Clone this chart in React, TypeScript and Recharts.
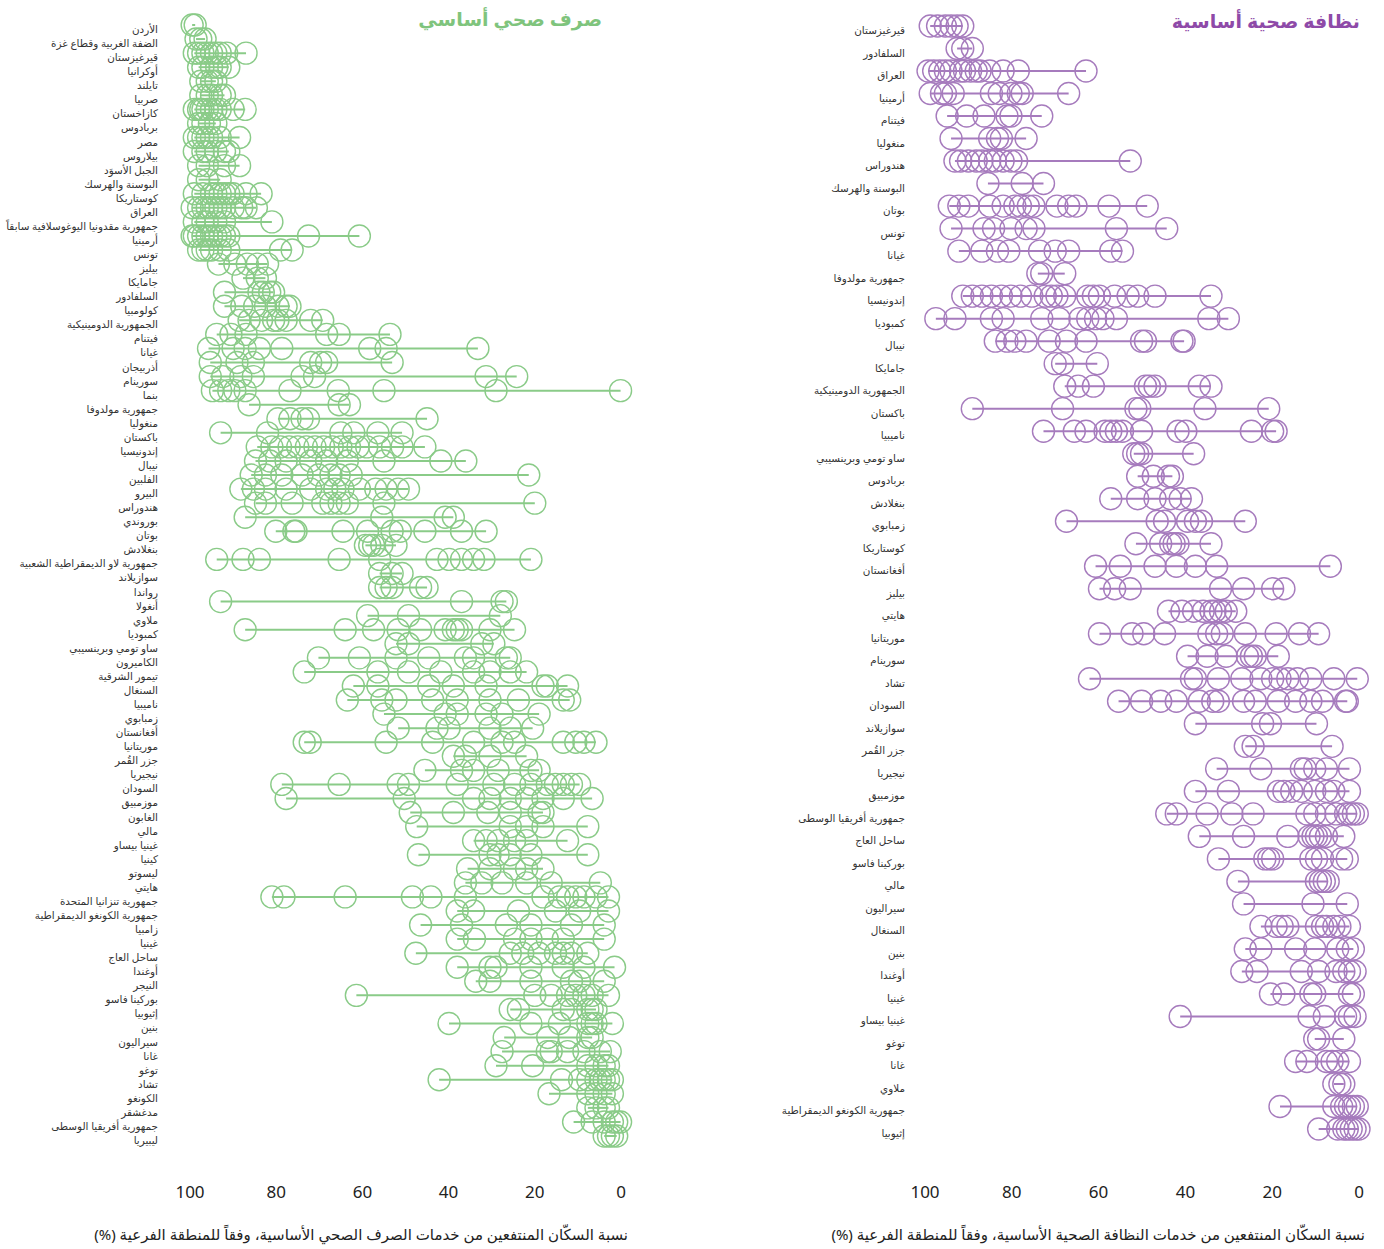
import React from 'react';
import { ScatterChart, Scatter, XAxis, YAxis, ReferenceLine } from 'recharts';

const GREEN = '#8acb88';
const PURPLE = '#a67bbd';
const FONT = '"Noto Sans", "DejaVu Sans", sans-serif';

const xTicks = [0, 20, 40, 60, 80, 100];

// صرف صحي أساسي - one row per country, values = subnational regions (%)
const sanitationCountries = [
  'الأردن', 'الضفة الغربية وقطاع غزة', 'قيرغيزستان', 'أوكرانيا', 'تايلند', 'صربيا', 'كازاخستان', 'بربادوس', 'مصر', 'بيلاروس',
  'الجبل الأسوَد', 'البوسنة والهرسك', 'كوستاريكا', 'العراق', 'جمهورية مقدونيا اليوغوسلافية سابقاً', 'أرمينيا', 'تونس', 'بيليز', 'جامايكا', 'السلفادور',
  'كولومبيا', 'الجمهورية الدومينيكية', 'فيتنام', 'غيانا', 'أذربيجان', 'سورينام', 'بنما', 'جمهورية مولدوفا', 'منغوليا', 'باكستان',
  'إندونيسيا', 'نيبال', 'الفلبين', 'البيرو', 'هندوراس', 'بوروندي', 'بوتان', 'بنغلادش', 'جمهورية لاو الديمقراطية الشعبية', 'سوازيلاند',
  'رواندا', 'أنغولا', 'ملاوي', 'كمبوديا', 'ساو تومي وبرينسيبي', 'الكاميرون', 'تيمور الشرقية', 'السنغال', 'ناميبيا', 'زمبابوي',
  'أفغانستان', 'موريتانيا', 'جزر القُمر', 'نيجيريا', 'السودان', 'موزمبيق', 'الغابون', 'مالي', 'غينيا بيساو', 'كينيا',
  'ليسوتو', 'هايتي', 'جمهورية تنزانيا المتحدة', 'جمهورية الكونغو الديمقراطية', 'زامبيا', 'غينيا', 'ساحل العاج', 'أوغندا', 'النيجر', 'بوركينا فاسو',
  'إثيوبيا', 'بنين', 'سيراليون', 'غانا', 'توغو', 'تشاد', 'الكونغو', 'مدغشقر', 'جمهورية أفريقيا الوسطى', 'ليبيريا',
];

const sanitationValues = [
  [99.5, 98.8], [98.6, 97.5, 96.5], [99, 98, 97, 96, 95, 94, 93, 91.5, 87], [98, 97, 95, 93.8, 93, 91],
  [97.5, 96, 95, 94], [97.5, 96, 95, 93, 92], [99, 98, 97.5, 97, 96, 95, 94, 93, 90, 87.2], [98, 97, 95.5, 94],
  [99, 98, 97, 96, 95, 93, 88.5], [99, 97, 96, 94, 92, 91], [98, 96, 92, 88.5], [98, 96, 93],
  [99, 97, 95, 94, 93, 92, 91, 90, 87, 83.5], [99.5, 98, 97, 96, 95, 94, 93, 92, 90, 88, 87, 84.6],
  [99, 97, 96, 94, 92, 81], [99.5, 99, 98, 97, 96, 95, 94, 93, 92, 91, 72.5, 60.7],
  [98, 97, 96, 95, 93, 91, 79, 76.3], [93.4, 89.6, 86.7, 84.4, 82], [87.7, 84.4, 82.5], [92, 84, 83, 81.5, 80.6],
  [92, 88, 85, 82.5, 79.6, 77.7, 76.8], [88.6, 86.3, 83.4, 80.6, 79.6, 77.7, 72, 69.2],
  [93.8, 90.5, 87, 68.3, 65.4, 53.6], [95.7, 90, 87.2, 83.9, 78.7, 58.3, 54.5, 33.2],
  [95.3, 89.1, 85.3, 72, 69.7, 68.3, 53.1], [95.3, 92.4, 88.2, 85.3, 74, 71.1, 31.3, 24.2],
  [94.8, 92.9, 91, 89.6, 87.2, 76.8, 65.6, 55, 29, 0.1], [86.3, 65.4, 63], [79.6, 76.8, 74, 72.5, 45],
  [92.9, 82, 65, 62, 56.4, 50.8], [84.4, 81, 79, 77, 75, 73, 71, 69, 67, 65, 63, 61, 59, 56, 53, 50.8, 45.5],
  [84.8, 81.5, 77.7, 72, 68.3, 63.5, 55, 41.8, 36], [85.8, 82.5, 78.7, 74, 70.2, 67.3, 65.4, 62.6, 21.4],
  [88.2, 85.3, 82.5, 77.7, 72, 68.3, 66.4, 64.5, 60.7, 56.9, 54.5, 51.7, 49.3],
  [84.8, 82.5, 76.3, 69.2, 67.3, 65.4, 63.5, 55, 20], [87.2, 55.5, 40.8, 38.9],
  [80.1, 75.9, 75.4, 64.5, 58.8, 53.1, 51.2, 45.5, 37, 31.3], [59.3, 58.3, 57.4, 55.5, 52.2],
  [93.8, 87.7, 83.9, 65.4, 56, 42.7, 39.9, 37, 34.2, 31.8, 20.9], [56, 53.1, 50.8],
  [56, 54.5, 53.1, 46.5, 45], [92.9, 37, 27.6, 26.6], [58.8, 49.3, 28],
  [87.2, 64, 57.4, 51.7, 46.5, 40.8, 38.9, 38, 37, 30.4, 24.7], [52.2, 49.3, 32.3, 29.5],
  [70.2, 60.7, 52.2, 44.6, 36.1, 34.2, 26.6, 25.7], [73.5, 56.4, 49.3, 41.8, 34.2, 30.4, 25.7, 21.9],
  [62.1, 56.4, 44.6, 38.9, 31.3, 18.1, 17.1, 12.4], [63.5, 55.5, 52.2, 43.7, 38, 30.4, 23.8, 13.4, 11.9],
  [55, 40.8, 38, 31.3, 27.6, 19], [51.7, 42.7, 39.9, 30.4, 25.7, 20.5],
  [73.5, 72.1, 54.5, 43.7, 34.2, 27.6, 24.7, 13.4, 10.5, 8.6, 5.8], [38.9, 36.1, 30.4, 21.9],
  [45.5, 37, 34.2, 28.5, 20.9, 19], [78.7, 65.4, 51.7, 49.3, 38, 29.5, 24.7, 20.9, 17.1, 15.2, 13.4, 11.5, 9.6],
  [77.7, 50.3, 34.2, 30.4, 25.7, 21.9, 18.1, 13.4, 6.7], [48.9, 38.9, 30.9, 25.7, 19, 18.1],
  [47.4, 25.7, 21.9, 18.1, 7.7], [34.2, 31.3, 28.5, 24.7, 21.9, 12.4], [47, 30.4, 28.5, 25.7, 20.9, 7.7],
  [35.6, 30.4, 24.7, 21.9, 18.1], [36.1, 32.3, 27.6, 21.9, 16.2, 4.8],
  [81, 78.2, 64, 48.4, 44.1, 36.1, 18.1, 14.3, 12.4, 10.5, 8.6, 5.8, 2.9], [38, 34.2, 23.8, 15.2, 9.6, 2.9],
  [46.5, 37, 26.6, 20.9, 11.5, 3.9], [38, 34, 24.7, 20.9, 17.1, 13.4, 3.9], [47.6, 25.7, 22.8, 19, 15.2, 13.4, 11.5, 7.7],
  [38, 30.4, 29, 20.9, 13.4, 8.6, 1.5], [33.7, 30.4, 20.9, 11.5, 9.6, 3.9], [61.4, 20, 16.2, 12.4, 10.5, 8.6, 6.7, 2.9],
  [25.7, 23.8, 13.4, 11.5, 7.7, 6.7, 5.8], [39.9, 20.9, 14.3, 7.7, 6.7, 5.8, 2], [27.1, 17, 12, 7.7, 6.7],
  [27.6, 17.1, 16.2, 12.4, 8.6, 4.8, 2.5], [29, 20.5, 7.7, 5.8, 3.9, 2.9], [42.2, 13.8, 9.6, 7.7, 5.8, 4.8, 3.9, 2.9, 2],
  [16.7, 7.7, 5.8, 3.9, 2], [7.7, 5.8, 3.9, 2.9], [11, 6.7, 3.9, 2, 1, 0.1], [3.9, 2.9, 2, 1],
];

// نظافة صحية أساسية
const hygieneCountries = [
  'قيرغيزستان', 'السلفادور', 'العراق', 'أرمينيا', 'فيتنام', 'منغوليا', 'هندوراس', 'البوسنة والهرسك', 'بوتان', 'تونس',
  'غيانا', 'جمهورية مولدوفا', 'إندونيسيا', 'كمبوديا', 'نيبال', 'جامايكا', 'الجمهورية الدومينيكية', 'باكستان', 'ناميبيا', 'ساو تومي وبرينسيبي',
  'بربادوس', 'بنغلادش', 'زمبابوي', 'كوستاريكا', 'أفغانستان', 'بيليز', 'هايتي', 'موريتانيا', 'سورينام', 'تشاد',
  'السودان', 'سوازيلاند', 'جزر القُمر', 'نيجيريا', 'موزمبيق', 'جمهورية أفريقيا الوسطى', 'ساحل العاج', 'بوركينا فاسو', 'مالي', 'سيراليون',
  'السنغال', 'بنين', 'أوغندا', 'غينيا', 'غينيا بيساو', 'توغو', 'غانا', 'ملاوي', 'جمهورية الكونغو الديمقراطية', 'إثيوبيا',
];

const hygieneValues = [
  [98.8, 97.1, 95.3, 94, 92.6, 91.3], [92.6, 91.3, 89.1],
  [99.3, 98, 96.6, 95.3, 94, 91.8, 90.9, 89.5, 88.2, 87.3, 85.1, 82, 78.5, 62.9],
  [98.8, 96.2, 95.3, 93.5, 84.7, 82.9, 80.2, 78.5, 77.6, 66.9], [94.9, 90.4, 86.4, 81.1, 80.2, 73.1],
  [94, 85.1, 83.3, 82.4, 76.7], [93.1, 91.8, 90, 88.2, 86.9, 85.1, 83.8, 82, 80.2, 78.9, 52.7], [85.5, 77.6, 72.7],
  [94.4, 92.2, 90, 85.1, 82, 79.3, 78, 76.2, 74.9, 69.6, 66.9, 65.2, 57.6, 48.8],
  [94, 86.4, 84.2, 80.2, 76.7, 74.9, 55.9, 44.3], [92.2, 86.9, 83.3, 80.7, 73.6, 70, 66.9, 57.2, 54.5], [74, 73.1, 67.8],
  [91.3, 89.1, 86.9, 84.7, 82.4, 80.2, 78, 75.4, 72.3, 70.9, 69.6, 67.8, 62.5, 61.2, 59.8, 56.3, 53.2, 51, 47, 34.1],
  [97.5, 93.1, 84.7, 82, 73.1, 69.1, 64.3, 62.5, 60.7, 59, 55.9, 34.6, 30.1],
  [83.8, 81.1, 79.3, 76.7, 71.4, 67.4, 62.9, 50.1, 49.2, 40.8, 40.3], [70, 68.3, 60.3],
  [67.8, 64.7, 61.2, 49.2, 48.3, 47, 36.8, 34.1], [89.1, 68.3, 51.4, 50.5, 35.5, 20.8],
  [72.7, 65.6, 62.9, 58.5, 57.2, 55.9, 54.5, 50.1, 41.7, 39.9, 24.8, 19.9, 19.1], [51.9, 51, 50.1, 38.1],
  [51, 47.4, 43.9, 43], [57.2, 51, 47, 43.4, 41.2, 38.6], [67.4, 46.5, 44.8, 39.5, 37.7, 36.3, 26.2],
  [51.4, 45.7, 43.4, 42.6, 41.7, 34.1], [60.7, 55, 47, 42.1, 37.7, 32.8, 6.6], [59.8, 56.3, 52.7, 31.9, 26.6, 19.9, 17.3],
  [43.9, 40.8, 38.1, 35.9, 34.1, 33.2, 31.9, 30.6, 28.4], [59.8, 52.3, 49.6, 44.8, 34.6, 32.8, 31.5, 26.2, 19.1, 13.7, 9.3],
  [39.5, 35, 30.6, 25.7, 24.8, 23.9, 18.6], [62.1, 38.6, 37.7, 32.4, 27, 22.6, 19.9, 18.2, 16.4, 14.2, 11.1, 5.8, 0.4],
  [55.4, 50.1, 45.7, 42.1, 36.8, 33.7, 32.4, 26.6, 23.9, 18.6, 14.6, 11.1, 8.4, 3.1, 2.7], [37.7, 22.2, 20.4, 9.8],
  [26.2, 24.4, 6.2], [32.8, 22.6, 13.3, 12.4, 10.2, 7.5, 2.2], [37.7, 30.1, 18.6, 17.3, 15.5, 13.3, 10.2, 7.5, 5.8, 2.2],
  [44.3, 42.1, 35, 29.3, 24.4, 12, 10.2, 7.5, 5.3, 3.1, 2.2, 1.3, 0.4], [36.8, 26.6, 16.4, 11.5, 10.6, 9.8, 8.9, 7.5, 3.5],
  [32.4, 21.7, 20.8, 19.9, 11.1, 9.8, 8.4, 4, 2.7], [27.9, 9.8, 8.9, 8, 7.1], [26.6, 10.6, 2.7],
  [22.6, 19.1, 17.7, 16.4, 9.8, 8.4, 7.5, 5.8, 4.4, 2.2], [26.2, 22.6, 14.6, 10.2, 4.9, 2.7, 1.3],
  [27, 23.5, 13.3, 9.3, 5.3, 3.5, 2.2, 0.9], [20.4, 17.3, 11.1, 10.2, 2.2, 1.3], [41.2, 11.5, 8, 3.1, 2.2, 0.9],
  [10.2, 9.3, 3.5], [14.6, 12, 7.5, 6.2, 4.9, 2.2], [5.8, 4.4, 3.5], [18.2, 5.8, 4, 3.1, 2.2, 1.3, 0.4],
  [9.3, 4.9, 3.5, 2.7, 1.8, 0.9, 0],
];

const toPoints = (rows: number[][]) => rows.flatMap((vals, i) => vals.map((v) => ({ x: v, y: i })));

const RowTick = (props: any) => {
  const { x, y, payload, names } = props;
  return (
    <text x={x} y={y} dy={8} textAnchor="end" fontSize={10.4} fill="#333" fontFamily={FONT}>
      {names[payload.value]}
    </text>
  );
};

interface PanelProps {
  names: string[];
  values: number[][];
  color: string;
  width: number;
  yWidth: number;
  top: number;
  right: number;
  bottom: number;
  rowTickMargin: number;
  xTickMargin: number;
}

const Panel = ({ names, values, color, width, yWidth, top, right, bottom, rowTickMargin, xTickMargin }: PanelProps) => (
  <ScatterChart width={width} height={1249} margin={{ top, right, bottom, left: 0 }}>
    <XAxis
      type="number"
      dataKey="x"
      domain={[0, 100]}
      reversed
      ticks={xTicks}
      axisLine={false}
      tickLine={false}
      tickSize={0}
      tickMargin={xTickMargin}
      height={60}
      tick={{ fontSize: 17, fill: '#222', fontFamily: FONT }}
    />
    <YAxis
      type="number"
      dataKey="y"
      domain={[0, names.length - 1]}
      reversed
      ticks={names.map((_, i) => i)}
      interval={0}
      width={yWidth}
      axisLine={false}
      tickLine={false}
      tickSize={0}
      tickMargin={rowTickMargin}
      tick={<RowTick names={names} />}
    />
    {values.map((vals, i) => (
      <ReferenceLine
        key={i}
        segment={[{ x: Math.min(...vals), y: i }, { x: Math.max(...vals), y: i }]}
        stroke={color}
        strokeWidth={2}
        ifOverflow="visible"
      />
    ))}
    <Scatter
      data={toPoints(values)}
      isAnimationActive={false}
      shape={(p: any) => <circle cx={p.cx} cy={p.cy} r={11} fill="none" stroke={color} strokeWidth={1.4} />}
    />
  </ScatterChart>
);

const App = () => (
  <div style={{ position: 'absolute', left: 0, top: 0, width: 1384, height: 1249, background: '#fff', fontFamily: FONT }}>
    <div style={{ position: 'absolute', left: 0, top: 0 }}>
      <Panel
        names={sanitationCountries}
        values={sanitationValues}
        color={GREEN}
        width={640}
        yWidth={190}
        top={25}
        right={19}
        bottom={53}
        rowTickMargin={32}
        xTickMargin={50}
      />
    </div>
    <div style={{ position: 'absolute', left: 640, top: 0 }}>
      <Panel
        names={hygieneCountries}
        values={hygieneValues}
        color={PURPLE}
        width={744}
        yWidth={285}
        top={26}
        right={25}
        bottom={60}
        rowTickMargin={20}
        xTickMargin={57}
      />
    </div>
    <div dir="rtl" style={{ position: 'absolute', right: 782, top: 6, fontSize: 19, fontWeight: 700, color: '#7fc47d' }}>
      صرف صحي أساسي
    </div>
    <div dir="rtl" style={{ position: 'absolute', right: 24, top: 8, fontSize: 19, fontWeight: 700, color: '#8e4aa8' }}>
      نظافة صحية أساسية
    </div>
    <div dir="rtl" style={{ position: 'absolute', right: 756, top: 1224, fontSize: 15, color: '#222', whiteSpace: 'nowrap' }}>
      نسبة السكّان المنتفعين من خدمات الصرف الصحي الأساسية، وفقاً للمنطقة الفرعية (%)
    </div>
    <div dir="rtl" style={{ position: 'absolute', right: 19, top: 1224, fontSize: 15, color: '#222', whiteSpace: 'nowrap' }}>
      نسبة السكّان المنتفعين من خدمات النظافة الصحية الأساسية، وفقاً للمنطقة الفرعية (%)
    </div>
  </div>
);

export default App;
